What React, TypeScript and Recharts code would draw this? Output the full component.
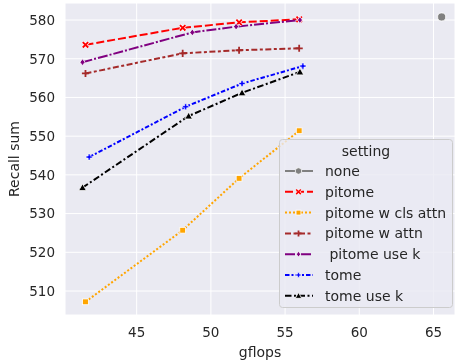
import React from 'react';
import { LineChart, Line, XAxis, YAxis, CartesianGrid, Legend } from 'recharts';

const FONT = '"DejaVu Sans", sans-serif';
const TEXT = '#262626';

// gflops / recall values per setting
const noneX = [65.55];
const noneY = [580.8];
const pitomeX = [41.55, 48.1, 51.9, 55.95];
const pitomeY = [573.6, 578.0, 579.4, 580.2];
const clsAttnX = [41.55, 48.1, 51.9, 55.95];
const clsAttnY = [507.2, 525.7, 539.1, 551.4];
const wAttnX = [41.55, 48.1, 51.9, 55.95];
const wAttnY = [566.2, 571.4, 572.2, 572.7];
const useKX = [41.35, 48.75, 51.7, 56.0];
const useKY = [569.1, 576.8, 578.3, 580.0];
const tomeX = [41.8, 48.3, 52.1, 56.2];
const tomeY = [544.6, 557.6, 563.6, 568.1];
const tomeKX = [41.35, 48.5, 52.1, 56.0];
const tomeKY = [536.7, 555.2, 561.2, 566.6];

const xTicks = [45, 50, 55, 60, 65];
const yTicks = [510, 520, 530, 540, 550, 560, 570, 580];

const zip = (xs: number[], ys: number[]) => xs.map((x, i) => ({ x, y: ys[i] }));

const series = [
  { name: 'none', data: zip(noneX, noneY), color: '#808080', dash: undefined, shape: 'circle' },
  { name: 'pitome', data: zip(pitomeX, pitomeY), color: '#FF0000', dash: '8 3', shape: 'x' },
  { name: 'pitome w cls attn', data: zip(clsAttnX, clsAttnY), color: '#FFA500', dash: '2 2', shape: 'square' },
  { name: 'pitome w attn', data: zip(wAttnX, wAttnY), color: '#A52A2A', dash: '6 2.5 3 2.5', shape: 'plus' },
  { name: ' pitome use k', data: zip(useKX, useKY), color: '#800080', dash: '10 2 2 2', shape: 'diamond' },
  { name: 'tome', data: zip(tomeX, tomeY), color: '#0000FF', dash: '4.5 2 2 2', shape: 'P' },
  { name: 'tome use k', data: zip(tomeKX, tomeKY), color: '#000000', dash: '6.5 2.5 2 2.5', shape: 'triangle' },
];

type MarkerProps = { shape: string; x: number; y: number; color: string; k?: number };

const Marker = ({ shape, x, y, color, k = 1 }: MarkerProps) => {
  switch (shape) {
    case 'circle':
      return <circle cx={x} cy={y} r={4.5 * k} fill={color} stroke="#fff" strokeWidth={0.8} />;
    case 'x': {
      const s = 3.2 * k;
      const d = `M${x - s},${y - s}L${x + s},${y + s}M${x - s},${y + s}L${x + s},${y - s}`;
      return (
        <g>
          <path d={d} stroke="#fff" strokeWidth={3.8 * k} />
          <path d={d} stroke={color} strokeWidth={2.2 * k} />
        </g>
      );
    }
    case 'square': {
      const s = 3.4 * k;
      return <rect x={x - s} y={y - s} width={2 * s} height={2 * s} fill={color} stroke="#fff" strokeWidth={0.8} />;
    }
    case 'plus': {
      const s = 4.2 * k;
      return <path d={`M${x - s},${y}L${x + s},${y}M${x},${y - s}L${x},${y + s}`} stroke={color} strokeWidth={1.8} />;
    }
    case 'diamond':
      return <polygon points={`${x},${y - 4 * k} ${x + 3 * k},${y} ${x},${y + 4 * k} ${x - 3 * k},${y}`} fill={color} stroke="#fff" strokeWidth={0.8} />;
    case 'P': {
      const a = 1.2 * k, s = 3.6 * k;
      const pts = [
        [-a, -s], [a, -s], [a, -a], [s, -a], [s, a], [a, a], [a, s], [-a, s], [-a, a], [-s, a], [-s, -a], [-a, -a],
      ].map(([px, py]) => `${x + px},${y + py}`).join(' ');
      return <polygon points={pts} fill={color} stroke="#fff" strokeWidth={0.6} />;
    }
    case 'triangle':
      return <polygon points={`${x},${y - 4.5 * k} ${x + 4.5 * k},${y + 3.5 * k} ${x - 4.5 * k},${y + 3.5 * k}`} fill={color} stroke="#fff" strokeWidth={0.8} />;
    default:
      return null;
  }
};

const SettingLegend = () => (
  <svg width={174} height={169} style={{ display: 'block' }}>
    <rect x={0.5} y={0.5} width={173} height={168} rx={3} fill="#EAEAF2" fillOpacity={0.8} stroke="#CCCCCC" />
    <text x={87} y={16.5} textAnchor="middle" fontSize={14} fontFamily={FONT} fill={TEXT}>setting</text>
    {series.map((s, i) => {
      const cy = 32 + i * 20.8;
      return (
        <g key={s.name}>
          <line x1={6} x2={34} y1={cy} y2={cy} stroke={s.color} strokeWidth={2} strokeDasharray={s.dash} />
          <Marker shape={s.shape} x={19.5} y={cy} color={s.color} k={0.72} />
          <text x={46} y={cy + 5} fontSize={14} fontFamily={FONT} fill={TEXT} style={{ whiteSpace: 'pre' }}>{s.name}</text>
        </g>
      );
    })}
  </svg>
);

const App: React.FC = () => {
  return (
    <div style={{ position: 'fixed', left: 0, top: 0, width: 456, height: 360 }}>
      <LineChart width={456} height={360} margin={{ top: 3, right: 1, bottom: 0, left: 0 }}>
        <CartesianGrid fill="#EAEAF2" stroke="#FFFFFF" strokeWidth={1} />
        <XAxis
          type="number"
          dataKey="x"
          domain={[40.17, 66.45]}
          ticks={xTicks}
          allowDataOverflow
          axisLine={false}
          tickLine={false}
          tickSize={0}
          tickMargin={12}
          height={45}
          tick={{ fill: TEXT, fontSize: 13.5, fontFamily: FONT }}
          label={{ value: 'gflops', position: 'insideBottom', offset: 3, fill: TEXT, fontSize: 14, fontFamily: FONT }}
        />
        <YAxis
          type="number"
          dataKey="y"
          domain={[503.8, 584.4]}
          ticks={yTicks}
          allowDataOverflow
          axisLine={false}
          tickLine={false}
          tickSize={0}
          tickMargin={10}
          width={65}
          tick={{ fill: TEXT, fontSize: 13.5, fontFamily: FONT }}
          label={{
            content: () => (
              <text x={19} y={159} transform="rotate(-90 19 159)" textAnchor="middle" fontSize={14} fontFamily={FONT} fill={TEXT}>
                Recall sum
              </text>
            ),
          }}
        />
        {series.map((s) => (
          <Line
            key={s.name}
            data={s.data}
            dataKey="y"
            name={s.name}
            type="linear"
            stroke={s.color}
            strokeWidth={2}
            strokeDasharray={s.dash}
            isAnimationActive={false}
            activeDot={false}
            dot={(p: any) => <Marker key={`${s.name}-${p.index}`} shape={s.shape} x={p.cx} y={p.cy} color={s.color} k={s.shape === 'circle' ? 0.9 : 0.85} />}
          />
        ))}
        <Legend
          layout="vertical"
          align="center"
          verticalAlign="middle"
          content={() => <SettingLegend />}
          wrapperStyle={{ left: 279, top: 139, width: 174, height: 169 }}
        />
      </LineChart>
    </div>
  );
};

export default App;
